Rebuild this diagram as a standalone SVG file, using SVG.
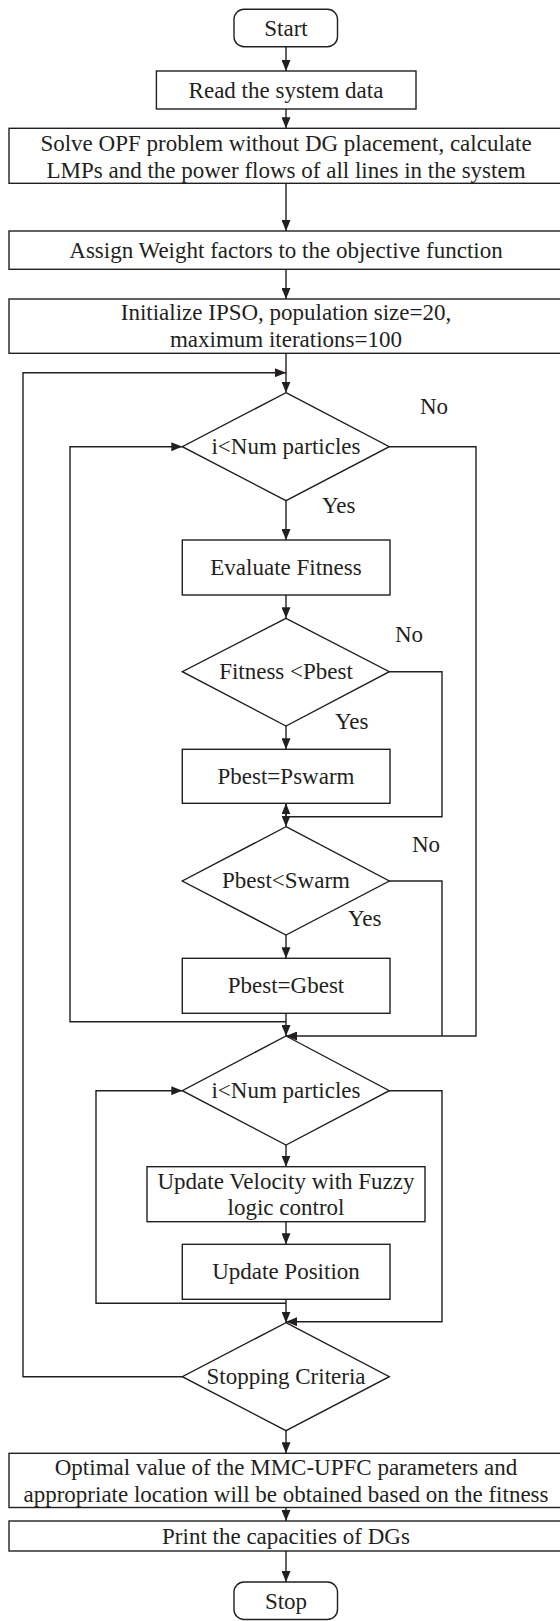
<svg xmlns="http://www.w3.org/2000/svg" width="560" height="1621" viewBox="0 0 560 1621">
<style>
.n{fill:#fff;stroke:#231f20;stroke-width:1.4}
.t{font-family:"Liberation Serif","Times New Roman",serif;font-size:23px;fill:#231f20;text-anchor:middle}
.l{font-family:"Liberation Serif","Times New Roman",serif;font-size:23px;fill:#231f20}
.c{fill:none;stroke:#231f20;stroke-width:1.4}
.a{marker-end:url(#arr)}
</style>
<defs>
<marker id="arr" markerUnits="userSpaceOnUse" markerWidth="11" markerHeight="9" refX="11" refY="4.5" orient="auto">
<path d="M0,0 L11,4.5 L0,9 z" fill="#231f20"/>
</marker>
</defs>
<rect width="560" height="1621" fill="#fff"/>
<g id="connectors">
<path class="c a" d="M286,46.7 V71"/>
<path class="c a" d="M286,109 V128.3"/>
<path class="c a" d="M286,183.3 V231"/>
<path class="c a" d="M286,269.3 V299"/>
<path class="c a" d="M286,353.3 V392.7"/>
<path class="c a" d="M182.3,1376.7 H23 V372.7 H286"/>
<path class="c a" d="M286,500.7 V540"/>
<path class="c a" d="M286,1021.7 H70 V446.7 H182.3"/>
<path class="c a" d="M389.3,446.7 H476 V1036 H286"/>
<path class="c a" d="M286,595 V618.3"/>
<path class="c a" d="M286,726 V749.3"/>
<path class="c" d="M389.3,671.7 H442 V816.7 H286"/>
<path class="c a" d="M286,816.7 V803.3"/>
<path class="c a" d="M286,803.3 V826.7"/>
<path class="c" d="M389.3,881 H442 V1036"/>
<path class="c a" d="M286,935 V958.3"/>
<path class="c a" d="M286,1013.3 V1036"/>
<path class="c a" d="M286,1303.3 H96 V1090.7 H182.3"/>
<path class="c a" d="M389.3,1090.7 H442 V1321.7 H286"/>
<path class="c a" d="M286,1145 V1166.7"/>
<path class="c a" d="M286,1221.7 V1244.3"/>
<path class="c a" d="M286,1299.3 V1322.7"/>
<path class="c a" d="M286,1430.7 V1453.3"/>
<path class="c a" d="M286,1507.5 V1521"/>
<path class="c a" d="M286,1551 V1582"/>
</g>
<g id="labels">
<text class="l" x="420" y="414">No</text>
<text class="l" x="322" y="513">Yes</text>
<text class="l" x="395" y="642">No</text>
<text class="l" x="335" y="729">Yes</text>
<text class="l" x="412" y="852">No</text>
<text class="l" x="348" y="926">Yes</text>
</g>
<g id="start"><rect class="n" x="234" y="9.3" width="103.5" height="37.4" rx="10"/><text class="t" x="286" y="35.5">Start</text></g>
<g id="read"><rect class="n" x="156.4" y="71" width="259.6" height="38"/><text class="t" x="286" y="97.5">Read the system data</text></g>
<g id="opf"><rect class="n" x="9" y="128.3" width="554" height="55"/><text class="t" x="286" y="151">Solve OPF problem without DG placement, calculate</text><text class="t" x="286" y="177.5">LMPs and the power flows of all lines in the system</text></g>
<g id="assign"><rect class="n" x="9" y="231" width="554" height="38.3"/><text class="t" x="286" y="257.8">Assign Weight factors to the objective function</text></g>
<g id="init"><rect class="n" x="9" y="299" width="554" height="54.3"/><text class="t" x="286" y="320">Initialize IPSO, population size=20,</text><text class="t" x="286" y="346.7">maximum iterations=100</text></g>
<g id="dec1"><polygon class="n" points="286,392.7 389.3,446.7 286,500.7 182.3,446.7"/><text class="t" x="286" y="454">i&lt;Num particles</text></g>
<g id="evaluate"><rect class="n" x="182.3" y="540" width="207.7" height="55"/><text class="t" x="286" y="575">Evaluate Fitness</text></g>
<g id="dec2"><polygon class="n" points="286,618.3 389.3,671.7 286,726 182.3,671.7"/><text class="t" x="286" y="679.3">Fitness &lt;Pbest</text></g>
<g id="pswarm"><rect class="n" x="182.3" y="749.3" width="207.7" height="54"/><text class="t" x="286" y="783.6">Pbest=Pswarm</text></g>
<g id="dec3"><polygon class="n" points="286,826.7 389.3,881 286,935 182.3,881"/><text class="t" x="286" y="888.3">Pbest&lt;Swarm</text></g>
<g id="gbest"><rect class="n" x="182.3" y="958.3" width="207.7" height="55"/><text class="t" x="286" y="993.4">Pbest=Gbest</text></g>
<g id="dec4"><polygon class="n" points="286,1036 389.3,1090.7 286,1145 182.3,1090.7"/><text class="t" x="286" y="1098.3">i&lt;Num particles</text></g>
<g id="velocity"><rect class="n" x="147" y="1166.7" width="278" height="55"/><text class="t" x="286" y="1188.5">Update Velocity with Fuzzy</text><text class="t" x="286" y="1215.2">logic control</text></g>
<g id="position"><rect class="n" x="182.3" y="1244.3" width="207.7" height="55"/><text class="t" x="286" y="1279.4">Update Position</text></g>
<g id="dec5"><polygon class="n" points="286,1322.7 389.3,1376.7 286,1430.7 182.3,1376.7"/><text class="t" x="286" y="1384">Stopping Criteria</text></g>
<g id="optimal"><rect class="n" x="9" y="1453.3" width="554" height="54.2"/><text class="t" x="286" y="1475">Optimal value of the MMC-UPFC parameters and</text><text class="t" x="286" y="1501.5">appropriate location will be obtained based on the fitness</text></g>
<g id="print"><rect class="n" x="9" y="1521" width="554" height="30"/><text class="t" x="286" y="1543.5">Print the capacities of DGs</text></g>
<g id="stop"><rect class="n" x="234" y="1582" width="103.5" height="37.5" rx="10"/><text class="t" x="286" y="1608.5">Stop</text></g>
</svg>
